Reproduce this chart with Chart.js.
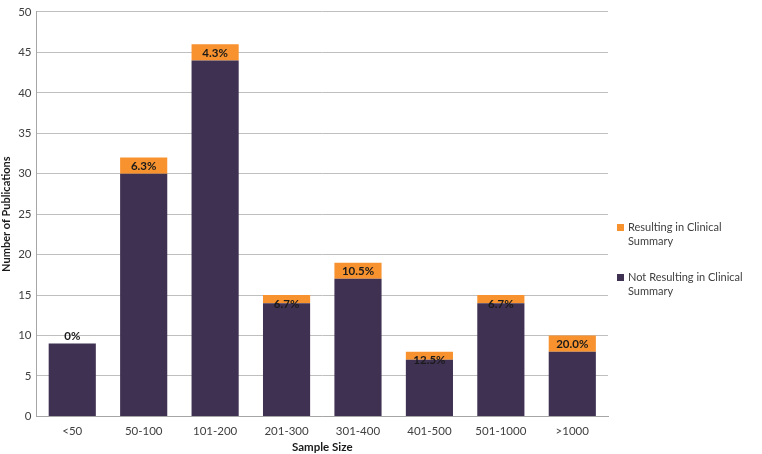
<!DOCTYPE html>
<html lang="en">
<head>
    <meta charset="UTF-8">
    <title>Sample Size</title>
    <script src="https://cdn.jsdelivr.net/npm/chart.js@4"></script>
    <style>
        body { margin: 0; background: #fff; }
        .wrap { position: relative; width: 762px; height: 454px; }
        .legenda { position: absolute; left: 617px; font-family: Lato, "Open Sans", sans-serif; font-size: 11px; color: #404040; line-height: 14px; }
        .legenda span.box { display: inline-block; width: 7px; height: 7px; margin-right: 4px; }
        .legenda .linha2 { padding-left: 11px; }
    </style>
</head>
<body>
<div class="wrap">
    <canvas id="grafico" width="762" height="454"></canvas>
    <div class="legenda" style="top:220px">
        <div><span class="box" style="background:#f7922e"></span>Resulting in Clinical</div>
        <div class="linha2">Summary</div>
    </div>
    <div class="legenda" style="top:270px">
        <div><span class="box" style="background:#3f3152"></span>Not Resulting in Clinical</div>
        <div class="linha2">Summary</div>
    </div>
</div>
<script>
    const categorias = ['<50', '50-100', '101-200', '201-300', '301-400', '401-500', '501-1000', '>1000'];
    const naoResultando = [9, 30, 44, 14, 17, 7, 14, 8];
    const resultando = [0, 2, 2, 1, 2, 1, 1, 2];
    const rotulos = ['0%', '6.3%', '4.3%', '6.7%', '10.5%', '12.5%', '6.7%', '20.0%'];

    const fonte = 'Lato, "Open Sans", sans-serif';

    // escreve a porcentagem no topo de cada barra
    const rotulosPlugin = {
        id: 'rotulos',
        afterDatasetsDraw(chart) {
            const ctx = chart.ctx;
            const meta = chart.getDatasetMeta(1);
            ctx.save();
            ctx.font = 'bold 11.5px ' + fonte;
            ctx.fillStyle = '#1a1a1a';
            ctx.textAlign = 'center';
            ctx.textBaseline = 'middle';
            meta.data.forEach(function (bar, i) {
                let y = bar.y + 9;
                if (resultando[i] == 0) y = bar.y - 7;
                ctx.fillText(rotulos[i], bar.x, y);
            });
            ctx.restore();
        }
    };

    new Chart(document.getElementById('grafico'), {
        type: 'bar',
        data: {
            labels: categorias,
            datasets: [{
                label: 'Not Resulting in Clinical Summary',
                data: naoResultando,
                backgroundColor: '#3f3152',
                barPercentage: 0.66,
                categoryPercentage: 1
            }, {
                label: 'Resulting in Clinical Summary',
                data: resultando,
                backgroundColor: '#f7922e',
                barPercentage: 0.66,
                categoryPercentage: 1
            }]
        },
        options: {
            responsive: false,
            animation: false,
            layout: { padding: { top: -5, right: 154, left: 0, bottom: 0 } },
            plugins: {
                legend: { display: false },
                tooltip: { enabled: false }
            },
            scales: {
                x: {
                    stacked: true,
                    grid: { display: false, drawTicks: false },
                    border: { color: '#a6a6a6' },
                    ticks: { color: '#404040', font: { family: fonte, size: 11.5 }, padding: 8 },
                    title: { display: true, text: 'Sample Size', color: '#1a1a1a', font: { family: fonte, size: 11.5, weight: 'bold' }, padding: { top: -6, bottom: 0 } }
                },
                y: {
                    stacked: true,
                    min: 0,
                    max: 50,
                    grid: { color: '#bfbfbf', drawTicks: false },
                    border: { color: '#a6a6a6' },
                    ticks: { stepSize: 5, color: '#404040', font: { family: fonte, size: 11.5 }, padding: 5 },
                    title: { display: true, text: 'Number of Publications', color: '#1a1a1a', font: { family: fonte, size: 11, weight: 'bold' }, padding: { top: 0, bottom: 0 } }
                }
            }
        },
        plugins: [rotulosPlugin]
    });
</script>
</body>
</html>
